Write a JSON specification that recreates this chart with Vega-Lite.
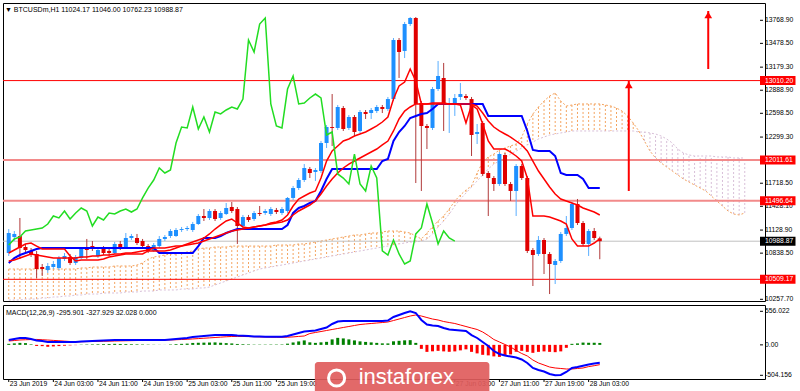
{
"$schema":"https://vega.github.io/schema/vega-lite/v6.json",
"background":"white",
"padding":{"left":1,"top":2,"right":0,"bottom":0},
"spacing":0,
"config":{"view":{"stroke":"#000000","strokeWidth":1}},
"datasets":{
"bars":[
{"t":"2019-06-23T19:00","o":10840,"h":11142,"l":10803,"c":11092,"kj":10715,"r1":10840,"r2":10740,"ch":10941,"m":81,"s":64,"hi":17},
{"t":"2019-06-23T20:00","o":11042,"h":11117,"l":10991,"c":11080,"kj":10777,"r1":10878,"r2":10752,"ch":11017,"m":97,"s":72,"hi":25},
{"t":"2019-06-23T21:00","o":11054,"h":11281,"l":10765,"c":10903,"kj":10815,"r1":10916,"r2":10777,"ch":11042,"m":114,"s":81,"hi":33},
{"t":"2019-06-23T22:00","o":10916,"h":10954,"l":10840,"c":10878,"kj":10840,"r1":10954,"r2":10803,"ch":11117,"m":114,"s":85,"hi":29},
{"t":"2019-06-23T23:00","o":10866,"h":10903,"l":10790,"c":10828,"kj":10866,"r1":10966,"r2":10828,"ch":11130,"m":97,"s":88,"hi":9},
{"t":"2019-06-24T00:00","o":10828,"h":10866,"l":10526,"c":10639,"kj":10891,"r1":10928,"r2":10815,"ch":11142,"m":72,"s":90,"hi":-18},
{"t":"2019-06-24T01:00","o":10664,"h":10702,"l":10551,"c":10639,"kj":10903,"r1":10891,"r2":10803,"ch":11155,"m":64,"s":85,"hi":-21},
{"t":"2019-06-24T02:00","o":10626,"h":10715,"l":10589,"c":10677,"kj":10903,"r1":10891,"r2":10790,"ch":11205,"m":48,"s":80,"hi":-32},
{"t":"2019-06-24T03:00","o":10664,"h":10740,"l":10639,"c":10702,"kj":10903,"r1":10891,"r2":10777,"ch":11306,"m":48,"s":74,"hi":-26},
{"t":"2019-06-24T04:00","o":10652,"h":10803,"l":10626,"c":10777,"kj":10903,"r1":10891,"r2":10777,"ch":11281,"m":48,"s":68,"hi":-20},
{"t":"2019-06-24T05:00","o":10765,"h":10840,"l":10740,"c":10803,"kj":10903,"r1":10891,"r2":10777,"ch":11369,"m":48,"s":62,"hi":-14},
{"t":"2019-06-24T06:00","o":10790,"h":10828,"l":10689,"c":10715,"kj":10903,"r1":10803,"r2":10777,"ch":11268,"m":48,"s":56,"hi":-8},
{"t":"2019-06-24T07:00","o":10715,"h":10815,"l":10689,"c":10790,"kj":10903,"r1":10740,"r2":10777,"ch":11344,"m":48,"s":52,"hi":-4},
{"t":"2019-06-24T08:00","o":10777,"h":10916,"l":10765,"c":10891,"kj":10903,"r1":10752,"r2":10790,"ch":11407,"m":56,"s":52,"hi":4},
{"t":"2019-06-24T09:00","o":10903,"h":11017,"l":10765,"c":10878,"kj":10903,"r1":10752,"r2":10790,"ch":11369,"m":60,"s":54,"hi":6},
{"t":"2019-06-24T10:00","o":10928,"h":10991,"l":10866,"c":10903,"kj":10903,"r1":10752,"r2":10803,"ch":11180,"m":64,"s":56,"hi":8},
{"t":"2019-06-24T11:00","o":10803,"h":10916,"l":10777,"c":10878,"kj":10903,"r1":10752,"r2":10803,"ch":11293,"m":68,"s":58,"hi":10},
{"t":"2019-06-24T12:00","o":10891,"h":10928,"l":10815,"c":10840,"kj":10903,"r1":10765,"r2":10815,"ch":11256,"m":72,"s":60,"hi":12},
{"t":"2019-06-24T13:00","o":10866,"h":10891,"l":10803,"c":10840,"kj":10903,"r1":10790,"r2":10815,"ch":11344,"m":76,"s":62,"hi":14},
{"t":"2019-06-24T14:00","o":10840,"h":10979,"l":10828,"c":10954,"kj":10903,"r1":10803,"r2":10828,"ch":11331,"m":81,"s":64,"hi":17},
{"t":"2019-06-24T15:00","o":10954,"h":10991,"l":10878,"c":10903,"kj":10903,"r1":10815,"r2":10828,"ch":11369,"m":81,"s":66,"hi":15},
{"t":"2019-06-24T16:00","o":10916,"h":11092,"l":10891,"c":11029,"kj":10903,"r1":10828,"r2":10840,"ch":11394,"m":81,"s":68,"hi":13},
{"t":"2019-06-24T17:00","o":11029,"h":11080,"l":11004,"c":11054,"kj":10903,"r1":10828,"r2":10840,"ch":11356,"m":81,"s":70,"hi":11},
{"t":"2019-06-24T18:00","o":11029,"h":11080,"l":10941,"c":10966,"kj":10903,"r1":10828,"r2":10853,"ch":11394,"m":81,"s":72,"hi":9},
{"t":"2019-06-24T19:00","o":10991,"h":11017,"l":10903,"c":10928,"kj":10903,"r1":10828,"r2":10866,"ch":11533,"m":81,"s":74,"hi":7},
{"t":"2019-06-24T20:00","o":10928,"h":10954,"l":10840,"c":10866,"kj":10903,"r1":10866,"r2":10878,"ch":11658,"m":81,"s":76,"hi":5},
{"t":"2019-06-24T21:00","o":10866,"h":10966,"l":10853,"c":10941,"kj":10903,"r1":10866,"r2":10903,"ch":11759,"m":81,"s":78,"hi":3},
{"t":"2019-06-24T22:00","o":10928,"h":11054,"l":10903,"c":11017,"kj":10840,"r1":10866,"r2":10903,"ch":11910,"m":81,"s":79,"hi":2},
{"t":"2019-06-24T23:00","o":11017,"h":11067,"l":10991,"c":11042,"kj":10840,"r1":10866,"r2":10903,"ch":11847,"m":81,"s":80,"hi":1},
{"t":"2019-06-25T00:00","o":11054,"h":11142,"l":11029,"c":11117,"kj":10840,"r1":10878,"r2":10916,"ch":11885,"m":89,"s":82,"hi":7},
{"t":"2019-06-25T01:00","o":11054,"h":11155,"l":11042,"c":11130,"kj":10840,"r1":10903,"r2":10928,"ch":12225,"m":97,"s":85,"hi":12},
{"t":"2019-06-25T02:00","o":11130,"h":11168,"l":11105,"c":11142,"kj":10840,"r1":10928,"r2":10928,"ch":12426,"m":106,"s":89,"hi":17},
{"t":"2019-06-25T03:00","o":11142,"h":11180,"l":11117,"c":11155,"kj":10840,"r1":10954,"r2":10941,"ch":12414,"m":114,"s":93,"hi":21},
{"t":"2019-06-25T04:00","o":11130,"h":11231,"l":11105,"c":11205,"kj":10840,"r1":10979,"r2":10954,"ch":12678,"m":130,"s":98,"hi":32},
{"t":"2019-06-25T05:00","o":11205,"h":11331,"l":11193,"c":11306,"kj":10928,"r1":11004,"r2":10966,"ch":12401,"m":139,"s":104,"hi":35},
{"t":"2019-06-25T06:00","o":11306,"h":11394,"l":11243,"c":11281,"kj":11029,"r1":11029,"r2":10991,"ch":12552,"m":147,"s":110,"hi":37},
{"t":"2019-06-25T07:00","o":11281,"h":11394,"l":11256,"c":11369,"kj":11029,"r1":11080,"r2":11017,"ch":12363,"m":155,"s":116,"hi":39},
{"t":"2019-06-25T08:00","o":11369,"h":11394,"l":11243,"c":11268,"kj":11029,"r1":11142,"r2":11042,"ch":12615,"m":163,"s":122,"hi":41},
{"t":"2019-06-25T09:00","o":11281,"h":11369,"l":11256,"c":11344,"kj":11054,"r1":11193,"r2":11067,"ch":12590,"m":163,"s":128,"hi":35},
{"t":"2019-06-25T10:00","o":11331,"h":11470,"l":11319,"c":11407,"kj":11092,"r1":11243,"r2":11092,"ch":12640,"m":163,"s":134,"hi":29},
{"t":"2019-06-25T11:00","o":11419,"h":11482,"l":11344,"c":11369,"kj":11117,"r1":11268,"r2":11117,"ch":12678,"m":163,"s":139,"hi":24},
{"t":"2019-06-25T12:00","o":11394,"h":11419,"l":10954,"c":11180,"kj":11142,"r1":11218,"r2":11130,"ch":12653,"m":155,"s":140,"hi":15},
{"t":"2019-06-25T13:00","o":11180,"h":11319,"l":11155,"c":11293,"kj":11142,"r1":11168,"r2":11142,"ch":12778,"m":150,"s":139,"hi":11},
{"t":"2019-06-25T14:00","o":11293,"h":11319,"l":11231,"c":11256,"kj":11142,"r1":11155,"r2":11155,"ch":13521,"m":145,"s":137,"hi":8},
{"t":"2019-06-25T15:00","o":11268,"h":11369,"l":11243,"c":11344,"kj":11142,"r1":11168,"r2":11168,"ch":13370,"m":140,"s":135,"hi":5},
{"t":"2019-06-25T16:00","o":11344,"h":11432,"l":11306,"c":11331,"kj":11142,"r1":11180,"r2":11180,"ch":13722,"m":137,"s":132,"hi":5},
{"t":"2019-06-25T17:00","o":11344,"h":11394,"l":11319,"c":11369,"kj":11142,"r1":11193,"r2":11193,"ch":13798,"m":135,"s":130,"hi":5},
{"t":"2019-06-25T18:00","o":11331,"h":11419,"l":11306,"c":11394,"kj":11142,"r1":11218,"r2":11205,"ch":12716,"m":134,"s":128,"hi":6},
{"t":"2019-06-25T19:00","o":11382,"h":11407,"l":11331,"c":11356,"kj":11142,"r1":11231,"r2":11218,"ch":12439,"m":133,"s":127,"hi":6},
{"t":"2019-06-25T20:00","o":11344,"h":11419,"l":11319,"c":11394,"kj":11142,"r1":11256,"r2":11231,"ch":12414,"m":133,"s":126,"hi":7},
{"t":"2019-06-25T21:00","o":11369,"h":11545,"l":11344,"c":11533,"kj":11193,"r1":11319,"r2":11256,"ch":12904,"m":147,"s":127,"hi":20},
{"t":"2019-06-25T22:00","o":11533,"h":11684,"l":11507,"c":11658,"kj":11344,"r1":11432,"r2":11319,"ch":13068,"m":172,"s":132,"hi":40},
{"t":"2019-06-25T23:00","o":11658,"h":11784,"l":11633,"c":11759,"kj":11407,"r1":11520,"r2":11369,"ch":12716,"m":197,"s":140,"hi":57},
{"t":"2019-06-26T00:00","o":11759,"h":11960,"l":11734,"c":11910,"kj":11432,"r1":11558,"r2":11407,"ch":12728,"m":221,"s":147,"hi":74},
{"t":"2019-06-26T01:00","o":11898,"h":11923,"l":11784,"c":11847,"kj":11470,"r1":11595,"r2":11444,"ch":12791,"m":230,"s":188,"hi":42},
{"t":"2019-06-26T02:00","o":11860,"h":11910,"l":11747,"c":11885,"kj":11495,"r1":11621,"r2":11495,"ch":12841,"m":238,"s":205,"hi":33},
{"t":"2019-06-26T03:00","o":11872,"h":12250,"l":11847,"c":12225,"kj":11621,"r1":11784,"r2":11583,"ch":12791,"m":263,"s":221,"hi":42},
{"t":"2019-06-26T04:00","o":12225,"h":12451,"l":12162,"c":12426,"kj":11772,"r1":11998,"r2":11684,"ch":12325,"m":288,"s":238,"hi":50},
{"t":"2019-06-26T05:00","o":12426,"h":12841,"l":12187,"c":12414,"kj":11898,"r1":12124,"r2":11772,"ch":12363,"m":346,"s":255,"hi":91},
{"t":"2019-06-26T06:00","o":12414,"h":12703,"l":12388,"c":12678,"kj":11898,"r1":12187,"r2":11847,"ch":11835,"m":387,"s":271,"hi":116},
{"t":"2019-06-26T07:00","o":12665,"h":12690,"l":12376,"c":12401,"kj":11898,"r1":12250,"r2":11910,"ch":11784,"m":395,"s":288,"hi":107},
{"t":"2019-06-26T08:00","o":12414,"h":12577,"l":12388,"c":12552,"kj":11898,"r1":12275,"r2":11960,"ch":11709,"m":395,"s":304,"hi":91},
{"t":"2019-06-26T09:00","o":12552,"h":12577,"l":12313,"c":12363,"kj":11898,"r1":12313,"r2":11998,"ch":12086,"m":395,"s":321,"hi":74},
{"t":"2019-06-26T10:00","o":12376,"h":12640,"l":12351,"c":12615,"kj":11898,"r1":12338,"r2":12036,"ch":11709,"m":395,"s":337,"hi":58},
{"t":"2019-06-26T11:00","o":12615,"h":12640,"l":12527,"c":12590,"kj":11898,"r1":12363,"r2":12074,"ch":11621,"m":395,"s":346,"hi":49},
{"t":"2019-06-26T12:00","o":12602,"h":12665,"l":12527,"c":12640,"kj":11898,"r1":12401,"r2":12111,"ch":11935,"m":395,"s":354,"hi":41},
{"t":"2019-06-26T13:00","o":12627,"h":12703,"l":12602,"c":12678,"kj":11898,"r1":12439,"r2":12149,"ch":11784,"m":395,"s":362,"hi":33},
{"t":"2019-06-26T14:00","o":12678,"h":12703,"l":12602,"c":12653,"kj":11998,"r1":12489,"r2":12200,"ch":10866,"m":395,"s":370,"hi":25},
{"t":"2019-06-26T15:00","o":12653,"h":12804,"l":12627,"c":12778,"kj":12023,"r1":12552,"r2":12250,"ch":10815,"m":403,"s":379,"hi":24},
{"t":"2019-06-26T16:00","o":12778,"h":13546,"l":12753,"c":13521,"kj":12250,"r1":12778,"r2":12376,"ch":11004,"m":462,"s":403,"hi":59},
{"t":"2019-06-26T17:00","o":13521,"h":13546,"l":13043,"c":13370,"kj":12363,"r1":12942,"r2":12527,"ch":10828,"m":495,"s":428,"hi":67},
{"t":"2019-06-26T18:00","o":13383,"h":13748,"l":13294,"c":13722,"kj":12439,"r1":12992,"r2":12627,"ch":10702,"m":528,"s":453,"hi":75},
{"t":"2019-06-26T19:00","o":13722,"h":13810,"l":13697,"c":13798,"kj":12539,"r1":13156,"r2":12678,"ch":10740,"m":556,"s":478,"hi":78},
{"t":"2019-06-26T20:00","o":13798,"h":13810,"l":11721,"c":12716,"kj":12565,"r1":13005,"r2":12716,"ch":11080,"m":528,"s":495,"hi":33},
{"t":"2019-06-26T21:00","o":12728,"h":12753,"l":11621,"c":12439,"kj":12590,"r1":12716,"r2":12716,"ch":11155,"m":412,"s":478,"hi":-66},
{"t":"2019-06-26T22:00","o":12439,"h":12464,"l":12149,"c":12414,"kj":12602,"r1":12716,"r2":12716,"ch":11457,"m":337,"s":453,"hi":-116},
{"t":"2019-06-26T23:00","o":12414,"h":12929,"l":12388,"c":12904,"kj":12653,"r1":12728,"r2":12716,"ch":11218,"m":321,"s":428,"hi":-107},
{"t":"2019-06-27T00:00","o":12904,"h":13257,"l":12879,"c":13068,"kj":12716,"r1":12728,"r2":12716,"ch":10954,"m":313,"s":412,"hi":-99},
{"t":"2019-06-27T01:00","o":13043,"h":13232,"l":12376,"c":12716,"kj":12716,"r1":12728,"r2":12716,"ch":11117,"m":279,"s":387,"hi":-108},
{"t":"2019-06-27T02:00","o":12716,"h":12791,"l":12351,"c":12728,"kj":12716,"r1":12716,"r2":12716,"ch":11029,"m":255,"s":370,"hi":-115},
{"t":"2019-06-27T03:00","o":12716,"h":12841,"l":12565,"c":12791,"kj":12716,"r1":12716,"r2":12716,"ch":10988.87,"m":246,"s":354,"hi":-108},
{"t":"2019-06-27T04:00","o":12804,"h":12980,"l":12766,"c":12841,"kj":12716,"r1":12703,"r2":12716,"m":238,"s":329,"hi":-91},
{"t":"2019-06-27T05:00","o":12816,"h":12841,"l":12766,"c":12791,"kj":12716,"r1":12476,"r2":12716,"m":230,"s":304,"hi":-74},
{"t":"2019-06-27T06:00","o":12778,"h":12804,"l":12061,"c":12325,"kj":12716,"r1":12703,"r2":12716,"m":163,"s":279,"hi":-116},
{"t":"2019-06-27T07:00","o":12338,"h":12464,"l":12212,"c":12363,"kj":12716,"r1":12653,"r2":12690,"m":114,"s":255,"hi":-141},
{"t":"2019-06-27T08:00","o":12476,"h":12502,"l":11809,"c":11835,"kj":12716,"r1":12464,"r2":12602,"m":48,"s":213,"hi":-165},
{"t":"2019-06-27T09:00","o":11847,"h":11872,"l":11306,"c":11784,"kj":12565,"r1":12250,"r2":12502,"m":-19,"s":155,"hi":-174},
{"t":"2019-06-27T10:00","o":11784,"h":11809,"l":11621,"c":11709,"kj":12565,"r1":12149,"r2":12426,"m":-102,"s":89,"hi":-191},
{"t":"2019-06-27T11:00","o":11709,"h":12111,"l":11684,"c":12086,"kj":12565,"r1":12149,"r2":12376,"m":-151,"s":48,"hi":-199},
{"t":"2019-06-27T12:00","o":12074,"h":12099,"l":11684,"c":11709,"kj":12565,"r1":12149,"r2":12338,"m":-176,"s":6,"hi":-182},
{"t":"2019-06-27T13:00","o":11709,"h":11734,"l":11495,"c":11621,"kj":12565,"r1":12111,"r2":12300,"m":-193,"s":-35,"hi":-158},
{"t":"2019-06-27T14:00","o":11621,"h":11960,"l":11306,"c":11935,"kj":12565,"r1":12061,"r2":12250,"m":-209,"s":-93,"hi":-116},
{"t":"2019-06-27T15:00","o":11935,"h":11960,"l":11759,"c":11784,"kj":12565,"r1":11998,"r2":12200,"m":-242,"s":-143,"hi":-99},
{"t":"2019-06-27T16:00","o":11784,"h":11809,"l":10840,"c":10866,"kj":12376,"r1":11784,"r2":12124,"m":-300,"s":-184,"hi":-116},
{"t":"2019-06-27T17:00","o":10878,"h":10903,"l":10425,"c":10815,"kj":12137,"r1":11306,"r2":11998,"m":-383,"s":-251,"hi":-132},
{"t":"2019-06-27T18:00","o":10828,"h":11054,"l":10803,"c":11004,"kj":12124,"r1":11306,"r2":11872,"m":-416,"s":-300,"hi":-116},
{"t":"2019-06-27T19:00","o":11004,"h":11029,"l":10576,"c":10828,"kj":12124,"r1":11306,"r2":11772,"m":-441,"s":-333,"hi":-108},
{"t":"2019-06-27T20:00","o":10828,"h":10853,"l":10324,"c":10702,"kj":12124,"r1":11293,"r2":11671,"m":-483,"s":-367,"hi":-116},
{"t":"2019-06-27T21:00","o":10689,"h":10765,"l":10450,"c":10740,"kj":12061,"r1":11268,"r2":11583,"m":-504,"s":-383,"hi":-121},
{"t":"2019-06-27T22:00","o":10740,"h":11105,"l":10715,"c":11080,"kj":11847,"r1":11243,"r2":11520,"m":-499,"s":-391,"hi":-108},
{"t":"2019-06-27T23:00","o":11080,"h":11306,"l":11054,"c":11155,"kj":11822,"r1":11205,"r2":11495,"m":-449,"s":-400,"hi":-49},
{"t":"2019-06-28T00:00","o":11155,"h":11482,"l":11130,"c":11457,"kj":11822,"r1":11017,"r2":11470,"m":-383,"s":-400,"hi":17},
{"t":"2019-06-28T01:00","o":11457,"h":11520,"l":11193,"c":11218,"kj":11822,"r1":10928,"r2":11444,"m":-367,"s":-391,"hi":24},
{"t":"2019-06-28T02:00","o":11218,"h":11243,"l":10928,"c":10954,"kj":11772,"r1":10928,"r2":11407,"m":-345,"s":-383,"hi":38},
{"t":"2019-06-28T03:00","o":10954,"h":11142,"l":10803,"c":11117,"kj":11658,"r1":10928,"r2":11381,"m":-325,"s":-360,"hi":35},
{"t":"2019-06-28T04:00","o":11117,"h":11155,"l":11004,"c":11029,"kj":11658,"r1":10966,"r2":11356,"m":-310,"s":-345,"hi":35},
{"t":"2019-06-28T05:00","o":11024.17,"h":11046,"l":10762.23,"c":10988.87,"kj":11658,"r1":11017,"r2":11319,"m":-295.901,"s":-327.929,"hi":32.028}
],
"cloud":[
{"t":"2019-06-23T19:00","a":10639,"b":10249},{"t":"2019-06-23T20:00","a":10639,"b":10249},{"t":"2019-06-23T21:00","a":10639,"b":10249},{"t":"2019-06-23T22:00","a":10639,"b":10261},{"t":"2019-06-23T23:00","a":10639,"b":10261},
{"t":"2019-06-24T00:00","a":10639,"b":10261},{"t":"2019-06-24T01:00","a":10639,"b":10274},{"t":"2019-06-24T02:00","a":10639,"b":10274},{"t":"2019-06-24T03:00","a":10639,"b":10287},{"t":"2019-06-24T04:00","a":10639,"b":10287},
{"t":"2019-06-24T05:00","a":10639,"b":10299},{"t":"2019-06-24T06:00","a":10639,"b":10299},{"t":"2019-06-24T07:00","a":10639,"b":10312},{"t":"2019-06-24T08:00","a":10652,"b":10312},{"t":"2019-06-24T09:00","a":10652,"b":10324},
{"t":"2019-06-24T10:00","a":10664,"b":10324},{"t":"2019-06-24T11:00","a":10664,"b":10324},{"t":"2019-06-24T12:00","a":10664,"b":10337},{"t":"2019-06-24T13:00","a":10664,"b":10337},{"t":"2019-06-24T14:00","a":10677,"b":10337},
{"t":"2019-06-24T15:00","a":10677,"b":10337},{"t":"2019-06-24T16:00","a":10677,"b":10350},{"t":"2019-06-24T17:00","a":10677,"b":10350},{"t":"2019-06-24T18:00","a":10689,"b":10350},{"t":"2019-06-24T19:00","a":10715,"b":10362},
{"t":"2019-06-24T20:00","a":10765,"b":10362},{"t":"2019-06-24T21:00","a":10790,"b":10362},{"t":"2019-06-24T22:00","a":10803,"b":10375},{"t":"2019-06-24T23:00","a":10815,"b":10375},{"t":"2019-06-25T00:00","a":10828,"b":10375},
{"t":"2019-06-25T01:00","a":10828,"b":10375},{"t":"2019-06-25T02:00","a":10840,"b":10387},{"t":"2019-06-25T03:00","a":10853,"b":10387},{"t":"2019-06-25T04:00","a":10866,"b":10387},{"t":"2019-06-25T05:00","a":10891,"b":10400},
{"t":"2019-06-25T06:00","a":10903,"b":10400},{"t":"2019-06-25T07:00","a":10903,"b":10412},{"t":"2019-06-25T08:00","a":10916,"b":10438},{"t":"2019-06-25T09:00","a":10916,"b":10463},{"t":"2019-06-25T10:00","a":10916,"b":10488},
{"t":"2019-06-25T11:00","a":10928,"b":10513},{"t":"2019-06-25T12:00","a":10928,"b":10538},{"t":"2019-06-25T13:00","a":10928,"b":10564},{"t":"2019-06-25T14:00","a":10928,"b":10589},{"t":"2019-06-25T15:00","a":10928,"b":10614},
{"t":"2019-06-25T16:00","a":10928,"b":10639},{"t":"2019-06-25T17:00","a":10928,"b":10652},{"t":"2019-06-25T18:00","a":10928,"b":10664},{"t":"2019-06-25T19:00","a":10941,"b":10677},{"t":"2019-06-25T20:00","a":10941,"b":10689},
{"t":"2019-06-25T21:00","a":10941,"b":10702},{"t":"2019-06-25T22:00","a":10941,"b":10715},{"t":"2019-06-25T23:00","a":10954,"b":10727},{"t":"2019-06-26T00:00","a":10954,"b":10740},{"t":"2019-06-26T01:00","a":10966,"b":10752},
{"t":"2019-06-26T02:00","a":10979,"b":10765},{"t":"2019-06-26T03:00","a":10991,"b":10777},{"t":"2019-06-26T04:00","a":11004,"b":10790},{"t":"2019-06-26T05:00","a":11017,"b":10803},{"t":"2019-06-26T06:00","a":11029,"b":10815},
{"t":"2019-06-26T07:00","a":11042,"b":10828},{"t":"2019-06-26T08:00","a":11054,"b":10840},{"t":"2019-06-26T09:00","a":11067,"b":10853},{"t":"2019-06-26T10:00","a":11067,"b":10866},{"t":"2019-06-26T11:00","a":11080,"b":10878},
{"t":"2019-06-26T12:00","a":11092,"b":10891},{"t":"2019-06-26T13:00","a":11092,"b":10903},{"t":"2019-06-26T14:00","a":11105,"b":10916},{"t":"2019-06-26T15:00","a":11117,"b":10928},{"t":"2019-06-26T16:00","a":11117,"b":10941},
{"t":"2019-06-26T17:00","a":11117,"b":10954},{"t":"2019-06-26T18:00","a":11105,"b":10966},{"t":"2019-06-26T19:00","a":11092,"b":10979},{"t":"2019-06-26T20:00","a":11054,"b":10979},{"t":"2019-06-26T21:00","a":11017,"b":10991},
{"t":"2019-06-26T22:00","a":11092,"b":11017},{"t":"2019-06-26T23:00","a":11168,"b":11080},{"t":"2019-06-27T00:00","a":11243,"b":11168},{"t":"2019-06-27T01:00","a":11306,"b":11243},{"t":"2019-06-27T02:00","a":11394,"b":11331},
{"t":"2019-06-27T03:00","a":11495,"b":11432},{"t":"2019-06-27T04:00","a":11570,"b":11520},{"t":"2019-06-27T05:00","a":11633,"b":11595},{"t":"2019-06-27T06:00","a":11684,"b":11671},{"t":"2019-06-27T07:00","a":11847,"b":11747},
{"t":"2019-06-27T08:00","a":11986,"b":11822},{"t":"2019-06-27T09:00","a":12049,"b":11898},{"t":"2019-06-27T10:00","a":12086,"b":11960},{"t":"2019-06-27T11:00","a":12137,"b":11998},{"t":"2019-06-27T12:00","a":12162,"b":12036},
{"t":"2019-06-27T13:00","a":12187,"b":12086},{"t":"2019-06-27T14:00","a":12212,"b":12124},{"t":"2019-06-27T15:00","a":12300,"b":12162},{"t":"2019-06-27T16:00","a":12464,"b":12200},{"t":"2019-06-27T17:00","a":12590,"b":12237},
{"t":"2019-06-27T18:00","a":12678,"b":12275},{"t":"2019-06-27T19:00","a":12753,"b":12300},{"t":"2019-06-27T20:00","a":12816,"b":12325},{"t":"2019-06-27T21:00","a":12854,"b":12338},{"t":"2019-06-27T22:00","a":12753,"b":12351},
{"t":"2019-06-27T23:00","a":12690,"b":12363},{"t":"2019-06-28T00:00","a":12703,"b":12376},{"t":"2019-06-28T01:00","a":12716,"b":12376},{"t":"2019-06-28T02:00","a":12716,"b":12376},{"t":"2019-06-28T03:00","a":12716,"b":12376},
{"t":"2019-06-28T04:00","a":12716,"b":12376},{"t":"2019-06-28T05:00","a":12716,"b":12376},{"t":"2019-06-28T06:00","a":12703,"b":12376},{"t":"2019-06-28T07:00","a":12690,"b":12376},{"t":"2019-06-28T08:00","a":12665,"b":12376},
{"t":"2019-06-28T09:00","a":12627,"b":12376},{"t":"2019-06-28T10:00","a":12565,"b":12376},{"t":"2019-06-28T11:00","a":12476,"b":12376},{"t":"2019-06-28T12:00","a":12376,"b":12363},{"t":"2019-06-28T13:00","a":12250,"b":12363},
{"t":"2019-06-28T14:00","a":12124,"b":12351},{"t":"2019-06-28T15:00","a":12036,"b":12338},{"t":"2019-06-28T16:00","a":11973,"b":12313},{"t":"2019-06-28T17:00","a":11923,"b":12275},{"t":"2019-06-28T18:00","a":11872,"b":12225},
{"t":"2019-06-28T19:00","a":11822,"b":12149},{"t":"2019-06-28T20:00","a":11772,"b":12099},{"t":"2019-06-28T21:00","a":11734,"b":12074},{"t":"2019-06-28T22:00","a":11696,"b":12061},{"t":"2019-06-28T23:00","a":11658,"b":12061},
{"t":"2019-06-29T00:00","a":11621,"b":12061},{"t":"2019-06-29T01:00","a":11558,"b":12061},{"t":"2019-06-29T02:00","a":11495,"b":12049},{"t":"2019-06-29T03:00","a":11432,"b":12049},{"t":"2019-06-29T04:00","a":11369,"b":12049},
{"t":"2019-06-29T05:00","a":11331,"b":12036},{"t":"2019-06-29T06:00","a":11319,"b":12036},{"t":"2019-06-29T07:00","a":11344,"b":12036}
],
"levels":[{"p":13010.2,"kind":"major"},{"p":12011.61,"kind":"minor"},{"p":11496.64,"kind":"minor"},{"p":10509.17,"kind":"major"}],
"tags":[{"p":13010.2,"kind":"level"},{"p":12011.61,"kind":"level"},{"p":11496.64,"kind":"level"},{"p":10509.17,"kind":"level"},{"p":10988.87,"kind":"price"}],
"arrows":[{"t":"2019-06-29T00:27","from":13156,"to":13886},{"t":"2019-06-28T10:12","from":11621,"to":13005}],
"yticks":[{"v":13768.9},{"v":13478.5},{"v":13179.3},{"v":12888.9},{"v":12598.5},{"v":12299.3},{"v":11718.5},{"v":11428.1},{"v":11128.9},{"v":10838.5},{"v":10257.7}],
"mticks":[{"v":556.022,"label":"556.022"},{"v":0,"label":"0.00"},{"v":-504.156,"label":"-504.156"}],
"xticks":[{"t":"2019-06-23T19:00","label":"23 Jun 2019"},{"t":"2019-06-24T03:00","label":"24 Jun 03:00"},{"t":"2019-06-24T11:00","label":"24 Jun 11:00"},{"t":"2019-06-24T19:00","label":"24 Jun 19:00"},{"t":"2019-06-25T03:00","label":"25 Jun 03:00"},{"t":"2019-06-25T11:00","label":"25 Jun 11:00"},{"t":"2019-06-25T19:00","label":"25 Jun 19:00"},{"t":"2019-06-27T03:00","label":"27 Jun 03:00"},{"t":"2019-06-27T11:00","label":"27 Jun 11:00"},{"t":"2019-06-27T19:00","label":"27 Jun 19:00"},{"t":"2019-06-28T03:00","label":"28 Jun 03:00"}]
},
"vconcat":[
{
"width":762,"height":298,
"title":{"text":"▼ BTCUSDm,H1  11024.17 11046.00 10762.23 10988.87","anchor":"start","offset":-10,"dx":3,"fontSize":7,"font":"Liberation Sans","fontWeight":"normal","color":"#000000"},
"layer":[
{"data":{"name":"cloud"},"mark":{"type":"rule","strokeWidth":1,"strokeDash":[2,2]},
 "encoding":{"x":{"field":"t","type":"temporal","scale":{"domain":[{"expr":"datetime(2019,5,23,18,52)"},{"expr":"datetime(2019,5,29,9,44)"}],"nice":false},"axis":null},
 "y":{"field":"a","type":"quantitative","scale":{"domain":[10236.3,13986.6],"nice":false,"zero":false},"axis":null},
 "y2":{"field":"b"},
 "color":{"condition":{"test":"datum.a >= datum.b","value":"#F4A460"},"value":"#D8BFD8"}}},
{"data":{"name":"cloud"},"mark":{"type":"line","strokeWidth":1,"strokeDash":[2,2],"color":"#F4A460"},
 "encoding":{"x":{"field":"t","type":"temporal","axis":null},"y":{"field":"a","type":"quantitative","axis":null}}},
{"data":{"name":"cloud"},"mark":{"type":"line","strokeWidth":1,"strokeDash":[2,2],"color":"#D8BFD8"},
 "encoding":{"x":{"field":"t","type":"temporal","axis":null},"y":{"field":"b","type":"quantitative","axis":null}}},
{"data":{"name":"levels"},"transform":[{"filter":"datum.kind == 'major'"}],"mark":{"type":"rule","color":"#FF0000","strokeWidth":1},
 "encoding":{"y":{"field":"p","type":"quantitative","axis":null}}},
{"data":{"name":"levels"},"transform":[{"filter":"datum.kind == 'minor'"}],"mark":{"type":"rule","color":"#F28A8A","strokeWidth":2},
 "encoding":{"y":{"field":"p","type":"quantitative","axis":null}}},
{"data":{"name":"tags"},"transform":[{"filter":"datum.kind == 'price'"}],"mark":{"type":"rule","color":"#C0C0C0","strokeWidth":1},
 "encoding":{"y":{"field":"p","type":"quantitative","axis":null}}},
{"data":{"name":"bars"},"mark":{"type":"rule","strokeWidth":1},
 "encoding":{"x":{"field":"t","type":"temporal","axis":null},"y":{"field":"l","type":"quantitative","axis":null},
  "y2":{"field":"h"},
  "color":{"condition":{"test":"datum.c >= datum.o","value":"#5AAEFF"},"value":"#B03A3A"}}},
{"data":{"name":"bars"},"mark":{"type":"bar","width":4},
 "encoding":{"x":{"field":"t","type":"temporal","axis":null},"y":{"field":"o","type":"quantitative","axis":null},"y2":{"field":"c"},
  "color":{"condition":{"test":"datum.c >= datum.o","value":"#1E90FF"},"value":"#E00000"}}},
{"data":{"name":"bars"},"mark":{"type":"line","color":"#0000FF","strokeWidth":2},
 "encoding":{"x":{"field":"t","type":"temporal","axis":null},"y":{"field":"kj","type":"quantitative","axis":null}}},
{"data":{"name":"bars"},"mark":{"type":"line","color":"#FF0000","strokeWidth":1.5},
 "encoding":{"x":{"field":"t","type":"temporal","axis":null},"y":{"field":"r2","type":"quantitative","axis":null}}},
{"data":{"name":"bars"},"mark":{"type":"line","color":"#FF0000","strokeWidth":1.5},
 "encoding":{"x":{"field":"t","type":"temporal","axis":null},"y":{"field":"r1","type":"quantitative","axis":null}}},
{"data":{"name":"bars"},"mark":{"type":"line","color":"#22DD22","strokeWidth":1.5},
 "encoding":{"x":{"field":"t","type":"temporal","axis":null},"y":{"field":"ch","type":"quantitative","axis":null}}},
{"data":{"name":"arrows"},"mark":{"type":"rule","color":"#FF0000","strokeWidth":2},
 "encoding":{"x":{"field":"t","type":"temporal","axis":null},"y":{"field":"from","type":"quantitative","axis":null},"y2":{"field":"to"}}},
{"data":{"name":"arrows"},"mark":{"type":"point","shape":"triangle-up","filled":true,"size":60,"opacity":1,"color":"#FF0000","yOffset":4},
 "encoding":{"x":{"field":"t","type":"temporal","axis":null},"y":{"field":"to","type":"quantitative","axis":null}}},
{"data":{"name":"yticks"},"mark":{"type":"rule","clip":false,"color":"#000000","strokeWidth":1},
 "encoding":{"x":{"datum":{"expr":"datetime(2019,5,29,9,44)"},"type":"temporal","axis":null},
  "x2":{"datum":{"expr":"datetime(2019,5,29,10,16)"}},
  "y":{"field":"v","type":"quantitative","axis":null}}},
{"data":{"name":"yticks"},"mark":{"type":"text","clip":false,"align":"left","baseline":"middle","dx":5,"color":"#000000","fontSize":6.8,"font":"Liberation Sans"},
 "encoding":{"x":{"datum":{"expr":"datetime(2019,5,29,9,44)"},"type":"temporal","axis":null},
  "y":{"field":"v","type":"quantitative","axis":null},
  "text":{"field":"v","type":"quantitative","format":".2f"}}},
{"data":{"name":"tags"},"mark":{"type":"rect","clip":false,"yOffset":-4.5,"y2Offset":4.5},
 "encoding":{"x":{"datum":{"expr":"datetime(2019,5,29,9,44)"},"type":"temporal","axis":null},
  "x2":{"datum":{"expr":"datetime(2019,5,29,16,6)"}},
  "y":{"field":"p","type":"quantitative","axis":null},"y2":{"field":"p"},
  "color":{"condition":{"test":"datum.kind == 'price'","value":"#000000"},"value":"#FF0000"}}},
{"data":{"name":"tags"},"mark":{"type":"text","clip":false,"align":"left","baseline":"middle","dx":5,"color":"#FFFFFF","fontSize":6.8,"font":"Liberation Sans"},
 "encoding":{"x":{"datum":{"expr":"datetime(2019,5,29,9,44)"},"type":"temporal","axis":null},
  "y":{"field":"p","type":"quantitative","axis":null},
  "text":{"field":"p","type":"quantitative","format":".2f"}}}
]
},
{
"width":762,"height":74,
"title":{"text":"MACD(12,26,9) -295.901 -327.929 32.028 0.000","anchor":"start","offset":-11,"dx":3,"fontSize":7,"font":"Liberation Sans","fontWeight":"normal","color":"#000000"},
"layer":[
{"data":{"name":"bars"},"mark":{"type":"bar","width":3},
 "encoding":{"x":{"field":"t","type":"temporal","scale":{"domain":[{"expr":"datetime(2019,5,23,18,52)"},{"expr":"datetime(2019,5,29,9,44)"}],"nice":false},"axis":null},
  "y":{"field":"hi","type":"quantitative","scale":{"domain":[-565.4,660.4],"nice":false,"zero":false},"axis":null},
  "y2":{"datum":0},
  "color":{"condition":{"test":"datum.hi >= 0","value":"#008000"},"value":"#FF0000"}}},
{"data":{"name":"bars"},"mark":{"type":"line","color":"#FF0000","strokeWidth":1},
 "encoding":{"x":{"field":"t","type":"temporal","axis":null},"y":{"field":"s","type":"quantitative","axis":null}}},
{"data":{"name":"bars"},"mark":{"type":"line","color":"#0000FF","strokeWidth":2},
 "encoding":{"x":{"field":"t","type":"temporal","axis":null},"y":{"field":"m","type":"quantitative","axis":null}}},
{"data":{"name":"mticks"},"mark":{"type":"rule","clip":false,"color":"#000000","strokeWidth":1},
 "encoding":{"x":{"datum":{"expr":"datetime(2019,5,29,9,44)"},"type":"temporal","axis":null},
  "x2":{"datum":{"expr":"datetime(2019,5,29,10,16)"}},
  "y":{"field":"v","type":"quantitative","axis":null}}},
{"data":{"name":"mticks"},"mark":{"type":"text","clip":false,"align":"left","baseline":"middle","dx":5,"color":"#000000","fontSize":6.8,"font":"Liberation Sans"},
 "encoding":{"x":{"datum":{"expr":"datetime(2019,5,29,9,44)"},"type":"temporal","axis":null},
  "y":{"field":"v","type":"quantitative","axis":null},
  "text":{"field":"label"}}},
{"data":{"name":"xticks"},"mark":{"type":"rule","clip":false,"color":"#000000","strokeWidth":1},
 "encoding":{"x":{"field":"t","type":"temporal","axis":null},
  "y":{"datum":-565.4,"type":"quantitative","axis":null},"y2":{"datum":-615}}},
{"data":{"name":"xticks"},"mark":{"type":"text","clip":false,"align":"left","baseline":"top","dx":1,"dy":2,"color":"#000000","fontSize":6.8,"font":"Liberation Sans"},
 "encoding":{"x":{"field":"t","type":"temporal","axis":null},
  "y":{"datum":-565.4,"type":"quantitative","axis":null},
  "text":{"field":"label"}}},
{"data":{"values":[{"label":"instaforex"}]},"mark":{"type":"rect","clip":false,"color":"#E05C5C","opacity":0.92,"cornerRadius":3},
 "encoding":{"x":{"datum":{"expr":"datetime(2019,5,26,1,54)"},"type":"temporal","axis":null},
  "x2":{"datum":{"expr":"datetime(2019,5,27,9,12)"}},
  "y":{"datum":-284,"type":"quantitative","axis":null},"y2":{"datum":-814}}},
{"data":{"values":[{"label":"instaforex"}]},"mark":{"type":"point","clip":false,"shape":"circle","filled":false,"size":260,"strokeWidth":3,"color":"#FFFFFF","opacity":1},
 "encoding":{"x":{"datum":{"expr":"datetime(2019,5,26,5,48)"},"type":"temporal","axis":null},
  "y":{"datum":-549,"type":"quantitative","axis":null}}},
{"data":{"values":[{"label":"instaforex"}]},"mark":{"type":"text","clip":false,"align":"left","baseline":"alphabetic","color":"#FFFFFF","fontSize":22,"font":"Liberation Sans"},
 "encoding":{"x":{"datum":{"expr":"datetime(2019,5,26,9,45)"},"type":"temporal","axis":null},
  "y":{"datum":-648,"type":"quantitative","axis":null},
  "text":{"field":"label"}}}
]
}
]
}
